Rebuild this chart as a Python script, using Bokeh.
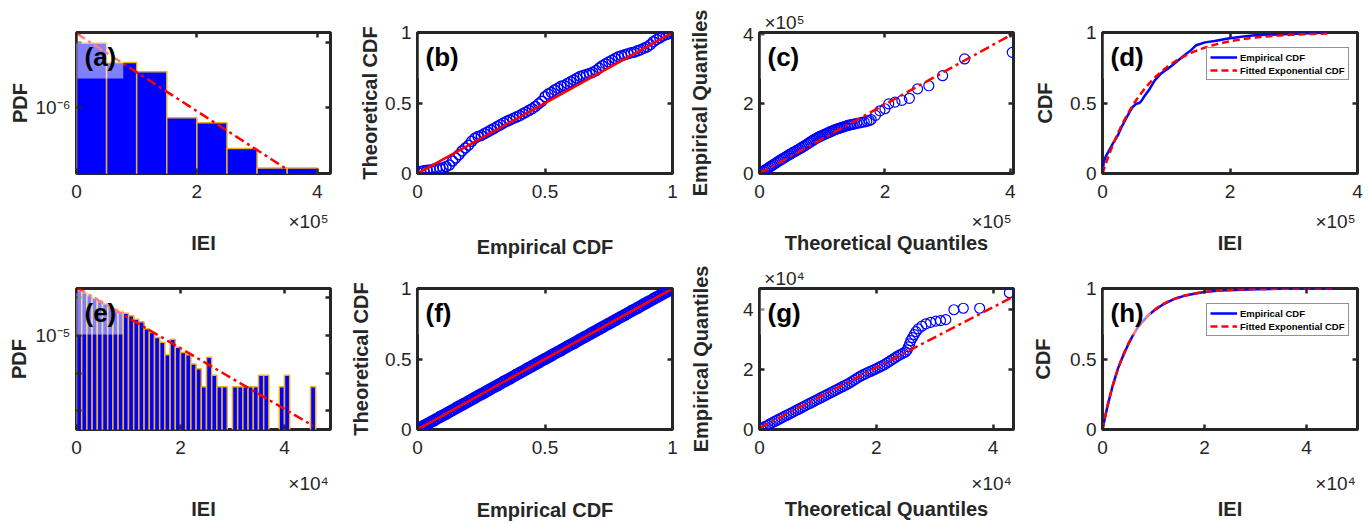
import numpy as np
from bokeh.plotting import figure
from bokeh.layouts import column, row
from bokeh.models import (Range1d, FixedTicker, LinearAxis, LogAxis, Label,
                          Legend, LegendItem)
from bokeh.embed import file_html
from bokeh.resources import INLINE

# ------------------------------------------------------------------ data
# (a) histogram of IEI (row 1), bin width 5e4
a_edges = [0, 50000, 100000, 150000, 200000, 250000, 300000, 350000, 400000]
a_counts = [87, 43, 31, 6, 5, 2, 1, 1]
fit_mean_1 = 72000          # fitted exponential mean, row 1
fit_xmax_1 = 355000         # largest IEI, row 1

# (e) histogram of IEI (row 2), bin width 1e3
e_bin_width = 1000
e_counts = [352, 305, 259, 220, 186, 155, 131, 114, 99, 87, 75, 61, 52,
            34, 27, 20, 15, 7, 18, 11, 8, 7, 4, 3, 1, 6, 2, 1, 1, 0,
            1, 1, 1, 1, 1, 2, 2, 0, 0, 1, 2, 0, 0, 0, 0, 1]
fit_mean_2 = 5400
fit_xmax_2 = 45500

# (b) P-P plot, row 1
b_emp = [0, 0.0125, 0.025, 0.0375, 0.05, 0.0625, 0.075, 0.0875, 0.1, 0.1125,
         0.125, 0.1375, 0.15, 0.1625, 0.175, 0.1875, 0.2, 0.2125, 0.225,
         0.2375, 0.25, 0.2625, 0.275, 0.2875, 0.3, 0.3125, 0.325, 0.3375,
         0.35, 0.3625, 0.375, 0.3875, 0.4, 0.4125, 0.425, 0.4375, 0.45,
         0.4625, 0.475, 0.4875, 0.5, 0.5125, 0.525, 0.5375, 0.55, 0.5625,
         0.575, 0.5875, 0.6, 0.6125, 0.625, 0.6375, 0.65, 0.6625, 0.675,
         0.6875, 0.7, 0.7125, 0.725, 0.7375, 0.75, 0.7625, 0.775, 0.7875, 0.8,
         0.8125, 0.825, 0.8375, 0.85, 0.8625, 0.875, 0.8875, 0.9, 0.9125,
         0.925, 0.9375, 0.95, 0.9625, 0.975, 0.9875, 1.0]
b_theo = [0.010, 0.015, 0.020, 0.023, 0.025, 0.030, 0.035, 0.038, 0.040,
          0.049, 0.060, 0.088, 0.110, 0.133, 0.160, 0.181, 0.200, 0.228,
          0.250, 0.263, 0.270, 0.283, 0.295, 0.308, 0.320, 0.333, 0.345,
          0.358, 0.370, 0.380, 0.390, 0.400, 0.410, 0.423, 0.435, 0.448,
          0.460, 0.476, 0.495, 0.513, 0.545, 0.563, 0.575, 0.593, 0.605,
          0.618, 0.625, 0.638, 0.650, 0.663, 0.675, 0.688, 0.695, 0.703,
          0.710, 0.718, 0.730, 0.748, 0.765, 0.778, 0.790, 0.803, 0.815,
          0.828, 0.835, 0.843, 0.850, 0.856, 0.860, 0.870, 0.878, 0.888,
          0.898, 0.913, 0.935, 0.950, 0.962, 0.975, 0.985, 0.993, 1.000]

# (f) P-P plot, row 2
f_emp = b_emp
f_theo = [0.004, 0.014, 0.026, 0.038, 0.050, 0.062, 0.075, 0.088, 0.100,
          0.112, 0.125, 0.137, 0.150, 0.163, 0.175, 0.187, 0.200, 0.212,
          0.225, 0.238, 0.250, 0.262, 0.275, 0.288, 0.300, 0.312, 0.325,
          0.338, 0.350, 0.362, 0.375, 0.388, 0.400, 0.412, 0.425, 0.438,
          0.450, 0.462, 0.475, 0.488, 0.500, 0.512, 0.525, 0.538, 0.550,
          0.562, 0.575, 0.588, 0.600, 0.612, 0.625, 0.638, 0.650, 0.662,
          0.675, 0.688, 0.700, 0.712, 0.725, 0.738, 0.750, 0.762, 0.775,
          0.788, 0.800, 0.812, 0.825, 0.838, 0.850, 0.862, 0.875, 0.888,
          0.900, 0.912, 0.925, 0.938, 0.950, 0.962, 0.975, 0.988, 1.000]

# (c) Q-Q plot, row 1 (theoretical vs empirical quantiles)
c_theo = [500, 3000, 5500, 8000, 10500, 13000, 15500, 18000, 20500, 23000,
          25500, 28000, 30500, 33000, 35500, 38000, 40500, 43000, 45500,
          48000, 50500, 53000, 55500, 58000, 60500, 63000, 65500, 68000,
          70500, 73000, 75500, 78000, 80500, 83000, 85500, 88000, 90500,
          93000, 95500, 98000, 100500, 103000, 105500, 108000, 110500,
          113000, 115500, 118000, 120500, 123000, 125500, 128000, 130500,
          133000, 135500, 138000, 140500, 143000, 145500, 148000,
          151000, 155000, 159000, 163000, 167000, 171000, 175000, 178000,
          185000, 192000, 200000, 206000, 216000, 227000, 239000, 252000,
          270000, 292000, 327000, 403000]
c_emp = [500, 3400, 6200, 9100, 12000, 14800, 17700, 20600, 23500, 26500,
         29500, 32500, 35500, 38300, 41000, 43700, 46500, 49200, 52000,
         54800, 57500, 60000, 62500, 65000, 67500, 70000, 72700, 75500,
         78300, 81200, 84000, 87000, 90000, 92800, 95600, 98400, 101000,
         103500, 105700, 107800, 109800, 111800, 114000, 116000, 118000,
         120000, 122000, 124000, 126000, 127500, 129000, 130500, 132000,
         133500, 135000, 136500, 138000, 139000, 140000, 141000,
         142000, 144000, 145000, 147000, 148000, 150000, 152000, 155000,
         167000, 180000, 186000, 200000, 205000, 210000, 216000, 243000,
         252000, 281000, 329000, 348000]
c_line_x = [0, 405000]
c_line_y = [0, 402000]

# (g) Q-Q plot, row 2
g_theo = [200, 600, 1000, 1400, 1800, 2200, 2600, 3000, 3400, 3800, 4200,
          4600, 5000, 5400, 5800, 6200, 6600, 7000, 7400, 7800, 8200, 8600,
          9000, 9400, 9800, 10200, 10600, 11000, 11400, 11800, 12200, 12600,
          13000, 13400, 13800, 14200, 14600, 15000, 15400, 15800, 16200,
          16600, 17000, 17400, 17800, 18200, 18600, 19000, 19400, 19800,
          20200, 20600, 21000, 21400, 21800, 22200, 22600, 23000, 23400,
          23800, 24200, 24600, 25000,
          25300, 25500, 25700, 25900, 26200, 26500, 26800, 27200, 27800,
          28500, 29300, 30200, 31000, 31900, 33300, 34900, 37700, 42800]
g_emp = [200, 600, 1000, 1400, 1900, 2300, 2700, 3100, 3500, 3900, 4300,
         4700, 5100, 5500, 5900, 6300, 6700, 7100, 7500, 7900, 8300, 8700,
         9100, 9500, 9900, 10300, 10700, 11100, 11500, 11900, 12300, 12700,
         13100, 13500, 13900, 14300, 14700, 15100, 15500, 16000, 16500,
         17000, 17500, 17900, 18300, 18700, 19100, 19400, 19800, 20100,
         20500, 20900, 21300, 21700, 22200, 22700, 23200, 23700, 24200,
         24700, 25100, 25500, 25900,
         26600, 27600, 28600, 29700, 30700, 31700, 32700, 33600, 34500,
         35300, 35800, 36200, 36400, 36700, 40000, 40500, 40500, 45700]
g_line_x = [0, 43500]
g_line_y = [500, 44400]

# (d) CDF, row 1
d_x = [0, 2000, 5000, 10000, 16000, 24000, 30000, 37000, 43000, 47000,
       53000, 58000, 62000, 66000, 74000, 82000, 92000, 103000, 110000,
       118000, 129000, 139000, 147000, 161000, 176000, 197000, 218000,
       239000, 292000, 353000]
d_ecdf = [0, 0.08, 0.12, 0.16, 0.21, 0.27, 0.33, 0.39, 0.44, 0.47, 0.495,
          0.50, 0.52, 0.55, 0.60, 0.66, 0.71, 0.745, 0.77, 0.80, 0.84, 0.875,
          0.91, 0.93, 0.94, 0.958, 0.97, 0.98, 0.99, 1.0]

# (h) CDF, row 2
h_x = [0, 1000, 2000, 3000, 4000, 5000, 6000, 7000, 8000, 9000, 10000,
       12000, 14000, 16000, 18000, 20000, 23000, 26000, 30000, 35000, 40000,
       45500]
h_ecdf = [0, 0.17, 0.31, 0.43, 0.52, 0.60, 0.67, 0.73, 0.77, 0.81, 0.84,
          0.89, 0.925, 0.948, 0.963, 0.975, 0.985, 0.99, 0.995, 0.998, 0.999,
          1.0]

# ------------------------------------------------------------------ style
FONT = "Liberation Sans"
AX = "#262626"
BLUE = "#0000FF"
RED = "#FF0000"
EDGE = "#EDB120"

COLS = [(340, 76, 10, 254), (340, 77, 8, 255), (340, 79, 7, 254),
        (350, 82, 13, 255)]
ROWS = [(262, 32, 89), (262, 26, 95)]
X5 = "\u00d710\u2075"
X4 = "\u00d710\u2074"


def title_props(ax):
    ax.axis_label_text_font = FONT
    ax.axis_label_text_font_style = "bold"
    ax.axis_label_text_font_size = "20px"
    ax.axis_label_text_color = AX


def make_fig(ci, ri, xr, yr, xticks, xlabels, yticks, ylabels, xtitle, ytitle,
             xst, yst, ylog=False, xexp=None, yexp=None):
    w, bl, br, fw = COLS[ci]
    h, bt, bb = ROWS[ri]
    p = figure(width=w, height=h, x_range=Range1d(*xr), y_range=Range1d(*yr),
               y_axis_type="log" if ylog else "linear",
               output_backend="svg", toolbar_location=None,
               min_border_left=bl, min_border_right=br,
               min_border_top=bt, min_border_bottom=bb)
    p.grid.visible = False
    p.outline_line_color = AX
    p.outline_line_width = 3
    xt = FixedTicker(ticks=xticks, minor_ticks=[])
    yt = FixedTicker(ticks=yticks, minor_ticks=[])
    specs = [(p.xaxis[0], xt, xticks, xlabels,
              None if xexp else xtitle, xst, 11),
             (p.yaxis[0], yt, yticks, ylabels, ytitle, yst, 6)]
    for ax, tk, ticks, labels, title, st, lst in specs:
        ax.ticker = tk
        ax.major_label_overrides = dict(zip(ticks, labels))
        ax.axis_label = title
        title_props(ax)
        ax.axis_label_standoff = st
        ax.major_label_text_font = FONT
        ax.major_label_text_font_size = "19px"
        ax.major_label_text_color = AX
        ax.major_label_standoff = lst
        ax.major_tick_in = 5
        ax.major_tick_out = 0
        ax.major_tick_line_width = 2.5
        ax.major_tick_line_color = AX
        ax.minor_tick_line_color = None
        ax.axis_line_color = None
    extra = dict(major_label_text_font_size="1px", major_label_standoff=0,
                 major_tick_in=5, major_tick_out=0, major_tick_line_width=2.5,
                 major_tick_line_color=AX, minor_tick_line_color=None,
                 axis_line_color=None)
    top = LinearAxis(ticker=xt,
                     major_label_overrides={t: "" for t in xticks}, **extra)
    RA = LogAxis if ylog else LinearAxis
    right = RA(ticker=yt, major_label_overrides={t: "" for t in yticks},
               **extra)
    p.add_layout(top, "above")
    p.add_layout(right, "right")
    plain = dict(major_label_text_font=FONT, major_label_text_font_size="19px",
                 major_label_text_color=AX, major_tick_line_color=None,
                 major_tick_in=0, major_tick_out=0, minor_tick_line_color=None,
                 axis_line_color=None)
    if xexp:
        # exponent text of the x axis, sitting between tick labels and title
        text, est, tst = xexp
        pos = xr[1] - 22 * (xr[1] - xr[0]) / fw
        ea = LinearAxis(ticker=FixedTicker(ticks=[pos], minor_ticks=[]),
                        major_label_overrides={pos: text},
                        major_label_standoff=est, axis_label=xtitle,
                        axis_label_standoff=tst, **plain)
        title_props(ea)
        p.add_layout(ea, "below")
    if yexp:
        pos = xr[0] + 25 * (xr[1] - xr[0]) / fw
        ya = LinearAxis(ticker=FixedTicker(ticks=[pos], minor_ticks=[]),
                        major_label_overrides={pos: yexp},
                        major_label_standoff=0, **plain)
        p.add_layout(ya, "above")
    return p


def tag(p, text, xr, yr):
    p.add_layout(Label(x=xr[0], y=yr[1], x_offset=1, y_offset=-2, text=text,
                       text_align="left", text_baseline="top",
                       text_font=FONT, text_font_style="bold",
                       text_font_size="26px", text_color="black", padding=7,
                       background_fill_color="white",
                       background_fill_alpha=0.5))


def cdf_legend(p, r1, r2):
    lg = Legend(items=[LegendItem(label="Empirical CDF", renderers=[r1]),
                       LegendItem(label="Fitted Exponential CDF", renderers=[r2])],
                location=(104, 93), border_line_color=AX, border_line_width=1,
                background_fill_color="white", background_fill_alpha=1,
                padding=3, spacing=1, margin=0, glyph_width=27,
                glyph_height=12, label_height=12, label_standoff=3,
                label_text_font=FONT, label_text_font_style="bold",
                label_text_font_size="9.5px", label_text_color="black")
    p.add_layout(lg)


MAIN5 = [0, 200000, 400000]
MAIN4 = [0, 20000, 40000]
LBL = ["0", "2", "4"]
U = [0, 0.5, 1]
ULBL = ["0", "0.5", "1"]
EXP1 = 10, -3      # exponent standoff / title standoff, row 1
EXP2 = 16, 1       # row 2

# ---------------- (a)
xr = (0, 422000)
yr = (10 ** -7.031, 10 ** -4.844)
pa = make_fig(0, 0, xr, yr, MAIN5, LBL, [1e-6, 1e-5], ["10\u207b\u2076", ""],
              "IEI", "PDF", 0, 2, ylog=True, xexp=(X5, *EXP1))
a_c = np.array(a_counts, dtype=float)
a_w = np.diff(a_edges)
a_pdf = a_c / (a_c.sum() * a_w)
pa.quad(left=a_edges[:-1], right=a_edges[1:], top=a_pdf, bottom=yr[0] / 10,
        fill_color=BLUE, line_color=EDGE, line_width=1.5)
ax_ = np.linspace(0, fit_xmax_1 - 5000, 60)
pa.line(ax_, np.exp(-ax_ / fit_mean_1) / fit_mean_1, line_color=RED,
        line_width=2.5, line_dash="10 4 3 4")
tag(pa, "(a)", xr, yr)

# ---------------- (b)
pb = make_fig(1, 0, (0, 1), (0, 1), U, ULBL, U, ULBL,
              "Empirical CDF", "Theoretical CDF", 35, 1)
pb.scatter(b_emp, b_theo, marker="circle", size=10, fill_color=None,
           line_color=BLUE, line_width=1.5)
pb.line([0, 1], [0, 1], line_color=RED, line_width=2.5)
tag(pb, "(b)", (0, 1), (0, 1))

# ---------------- (c)
xr = (0, 405000)
yr = (0, 405000)
pc = make_fig(2, 0, xr, yr, MAIN5, LBL, MAIN5, LBL,
              "Theoretical Quantiles", "Empirical Quantiles", 0, 29,
              xexp=(X5, *EXP1), yexp=X5)
pc.scatter(c_theo, c_emp, marker="circle", size=10, fill_color=None,
           line_color=BLUE, line_width=1.2)
pc.line(c_line_x, c_line_y, line_color=RED, line_width=2.5,
        line_dash="10 4 3 4")
tag(pc, "(c)", xr, yr)

# ---------------- (d)
xr = (0, 400000)
pd_ = make_fig(3, 0, xr, (0, 1), MAIN5, LBL, U, ULBL, "IEI", "CDF", 0, 11,
               xexp=(X5, *EXP1))
r1 = pd_.line(d_x, d_ecdf, line_color=BLUE, line_width=2.5)
dx = np.linspace(0, fit_xmax_1, 200)
r2 = pd_.line(dx, 1 - np.exp(-dx / fit_mean_1), line_color=RED,
              line_width=2.5, line_dash="7 4")
tag(pd_, "(d)", xr, (0, 1))
cdf_legend(pd_, r1, r2)

# ---------------- (e)
xr = (0, 48850)
yr = (10 ** -7.49, 10 ** -3.76)
pe = make_fig(0, 1, xr, yr, MAIN4, LBL, [1e-7, 1e-6, 1e-5, 1e-4],
              ["", "", "10\u207b\u2075", ""], "IEI", "PDF", 0, 2, ylog=True,
              xexp=(X4, *EXP2))
e_c = np.array(e_counts, dtype=float)
e_pdf = e_c / (e_c.sum() * e_bin_width)
e_left = np.arange(len(e_c)) * e_bin_width
keep = e_c > 0
pe.quad(left=e_left[keep], right=e_left[keep] + e_bin_width, top=e_pdf[keep],
        bottom=yr[0] / 10, fill_color=BLUE, line_color=EDGE, line_width=1.5)
ex_ = np.linspace(0, fit_xmax_2, 60)
pe.line(ex_, np.exp(-ex_ / fit_mean_2) / fit_mean_2, line_color=RED,
        line_width=2.5, line_dash="10 4 3 4")
tag(pe, "(e)", xr, yr)

# ---------------- (f)
pf = make_fig(1, 1, (0, 1), (0, 1), U, ULBL, U, ULBL,
              "Empirical CDF", "Theoretical CDF", 42, 10)
pf.scatter(f_emp, f_theo, marker="circle", size=10, fill_color=None,
           line_color=BLUE, line_width=2.5)
pf.line([0, 1], [0, 1], line_color=RED, line_width=2.5)
tag(pf, "(f)", (0, 1), (0, 1))

# ---------------- (g)
xr = (0, 43500)
yr = (0, 47100)
pg = make_fig(2, 1, xr, yr, MAIN4, LBL, MAIN4, LBL,
              "Theoretical Quantiles", "Empirical Quantiles", 0, 28,
              xexp=(X4, *EXP2), yexp=X4)
pg.scatter(g_theo, g_emp, marker="circle", size=10, fill_color=None,
           line_color=BLUE, line_width=1.2)
pg.line(g_line_x, g_line_y, line_color=RED, line_width=2.5,
        line_dash="10 4 3 4")
tag(pg, "(g)", xr, yr)

# ---------------- (h)
xr = (0, 50000)
ph = make_fig(3, 1, xr, (0, 1), MAIN4, LBL, U, ULBL, "IEI", "CDF", 0, 13,
              xexp=(X4, *EXP2))
r1 = ph.line(h_x, h_ecdf, line_color=BLUE, line_width=2.5)
hx = np.linspace(0, fit_xmax_2, 200)
r2 = ph.line(hx, 1 - np.exp(-hx / fit_mean_2), line_color=RED,
             line_width=2.5, line_dash="7 4")
tag(ph, "(h)", xr, (0, 1))
cdf_legend(ph, r1, r2)

layout = column(row(pa, pb, pc, pd_), row(pe, pf, pg, ph))
open("out.html", "w").write(file_html(layout, INLINE))
